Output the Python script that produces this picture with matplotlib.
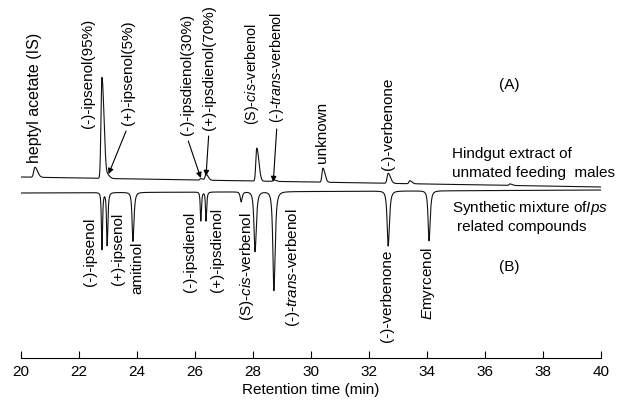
import matplotlib
matplotlib.use("Agg")
import matplotlib.pyplot as plt
import numpy as np

plt.rcParams["font.family"] = ["Liberation Sans", "DejaVu Sans"]
plt.rcParams["mathtext.fontset"] = "custom"
plt.rcParams["mathtext.rm"] = "Liberation Sans"
plt.rcParams["mathtext.it"] = "Liberation Sans:italic"

# (A) hindgut extract: peak retention times (min), heights (arb.), widths (min)
top_rt = [20.48, 22.79, 23.0, 26.2, 26.38, 28.13, 28.72, 30.41, 32.66, 33.41, 36.86]
top_height = [10, 101, 3, 1.5, 6, 33, 1.5, 14, 10, 3, 1.5]
top_width = [0.05, 0.04, 0.04, 0.04, 0.04, 0.04, 0.04, 0.04, 0.045, 0.04, 0.04]
top_base = [181, 171]

# (B) synthetic mixture: peaks point downwards
bot_rt = [22.79, 22.97, 23.86, 26.2, 26.38, 27.59, 28.07, 28.72, 32.66, 34.07]
bot_depth = [57, 53, 49, 29, 29, 10, 60, 99, 55, 50]
bot_width = [0.03, 0.035, 0.05, 0.03, 0.03, 0.05, 0.06, 0.06, 0.06, 0.055]
bot_base = [165, 168]

# labels above trace A: (text, x, y of bottom edge, font size, arrow target or None)
top_labels = [
    ("heptyl acetate (IS)", 20.48, 195, 11.5, None),
    ("(-)-ipsenol(95%)", 22.31, 230, 11, None),
    ("(+)-ipsenol(5%)", 23.69, 233, 11, (23.02, 184)),
    ("(-)-ipsdienol(30%)", 25.72, 223, 11, (26.2, 180)),
    ("(+)-ipsdienol(70%)", 26.48, 228, 11, (26.38, 182)),
    (r"(S)-$\mathit{cis}$-verbenol", 27.97, 233, 10.3, None),
    (r"(-)-$\mathit{trans}$-verbenol", 28.83, 235, 10.3, (28.7, 176)),
    ("unknown", 30.38, 195, 11, None),
    ("(-)-verbenone", 32.66, 188, 11, None),
]

# labels below trace B: (text, x, y of top edge)
bot_labels = [
    ("(-)-ipsenol", 22.38, 140),
    ("(+)-ipsenol", 23.34, 145),
    ("amitinol", 24.0, 116),
    ("(-)-ipsdienol", 25.83, 146),
    ("(+)-ipsdienol", 26.76, 150),
    (r"(S)-$\mathit{cis}$-verbenol", 27.79, 146),
    (r"(-)-$\mathit{trans}$-verbenol", 29.38, 150),
    ("(-)-verbenone", 32.62, 108),
    (r"$\mathit{E}$myrcenol", 34.03, 111),
]


def gauss_tail(t, rt, h, w):
    # steep front, slower tail
    s = np.where(t < rt, w * 0.8, w * 1.8)
    return h * np.exp(-0.5 * ((t - rt) / s) ** 2)


def sharp_peak(t, rt, h, w):
    s = np.where(t < rt, w * 0.9, w * 1.1)
    return h / (1.0 + ((t - rt) / s) ** 2) ** 1.5


t = np.linspace(20, 40, 6000)

sig_a = np.linspace(top_base[0], top_base[1], t.size)
for rt, h, w in zip(top_rt, top_height, top_width):
    sig_a = sig_a + gauss_tail(t, rt, h, w)

sig_b = np.linspace(bot_base[0], bot_base[1], t.size)
for rt, h, w in zip(bot_rt, bot_depth, bot_width):
    sig_b = sig_b - sharp_peak(t, rt, h, w)

fig = plt.figure(figsize=(6.26, 4.03), dpi=100)
ax = fig.add_axes([21 / 626, 45 / 403, 580 / 626, 358 / 403])

ax.plot(t, sig_a, color="#111111", lw=0.8)
ax.plot(t, sig_b, color="#111111", lw=0.8)

fs = 11
for text, x, y, size, target in top_labels:
    ax.text(x, y, text, rotation=90, ha="center", va="bottom", fontsize=size)
    if target is not None:
        ax.annotate("", xy=target, xytext=(x + (target[0] - x) * 0.1, y - 6),
                    arrowprops=dict(arrowstyle="-|>", lw=0.8, color="k",
                                    mutation_scale=8, shrinkA=0, shrinkB=0))

for text, x, y in bot_labels:
    ax.text(x, y, text, rotation=90, ha="center", va="top", fontsize=fs)

ax.text(36.83, 273, "(A)", ha="center", va="center", fontsize=fs)
ax.text(34.86, 204, "Hindgut extract of", ha="left", va="center", fontsize=fs)
ax.text(34.86, 185, "unmated feeding  males", ha="left", va="center", fontsize=fs)
ax.text(34.86, 150, r"Synthetic mixture of$\mathit{Ips}$", ha="left", va="center", fontsize=fs)
ax.text(35.03, 131, "related compounds", ha="left", va="center", fontsize=fs)
ax.text(36.83, 91, "(B)", ha="center", va="center", fontsize=fs)

ax.set_xlim(20, 40)
ax.set_ylim(0, 358)
ax.set_xticks(np.arange(20, 41, 2))
ax.set_yticks([])
for side in ["left", "top", "right"]:
    ax.spines[side].set_visible(False)
ax.spines["bottom"].set_linewidth(0.8)
ax.tick_params(axis="x", direction="in", length=5, width=0.8, pad=5, labelsize=fs)
ax.set_xlabel("Retention time (min)", fontsize=fs, labelpad=3)
ax.patch.set_visible(False)

fig.savefig("out.png", dpi=100)
